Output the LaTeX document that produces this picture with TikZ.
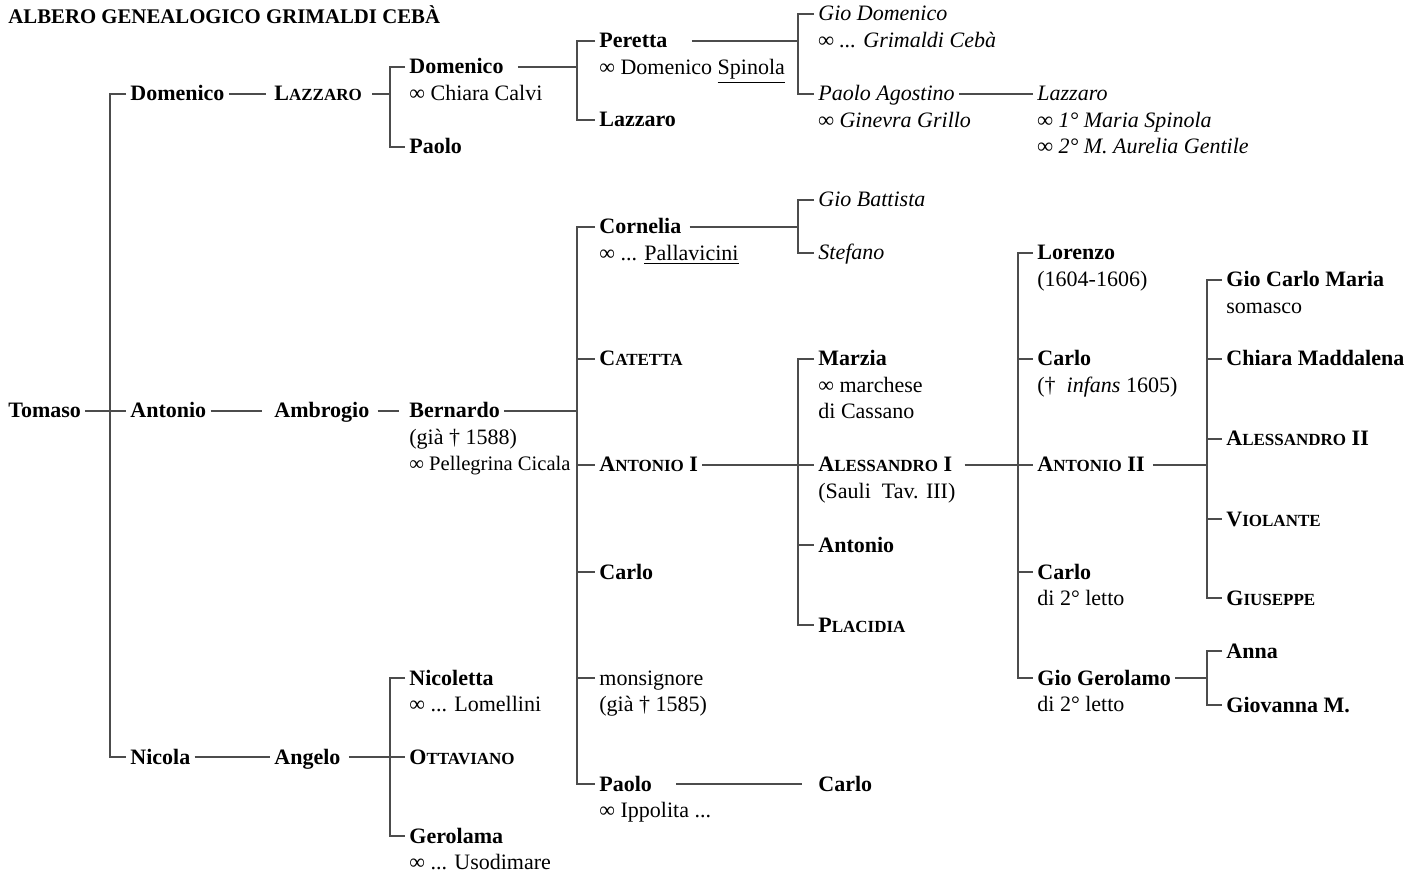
\documentclass[tikz,border=0pt]{standalone}
\usepackage{fontspec}
\setmainfont{Liberation Serif}
\newcommand\tsz{\fontsize{11}{13.25}\selectfont}
\newcommand\ksc[2]{#1{\fontsize{8.5}{10}\selectfont #2}}

\begin{document}
\begin{tikzpicture}[x=0.5pt, y=-0.5pt,
  nm/.style = {font=\tsz\bfseries, anchor=west, inner xsep=2pt, inner ysep=0pt, text height=8pt, text depth=1pt},
  nmrm/.style = {nm, font=\tsz},
  nmit/.style = {nm, font=\tsz\itshape},
  sub/.style = {font=\tsz, anchor=base west, align=left, inner xsep=2pt, inner ysep=0pt},
  subit/.style = {sub, font=\tsz\itshape},
  ln/.style = {draw=black!70, line width=0.6pt}]

\useasboundingbox (0,0) rectangle (1412,876);

\node[font=\fontsize{10.4}{13}\selectfont\bfseries, anchor=west, inner sep=0pt] (title) at (8,15) {ALBERO GENEALOGICO GRIMALDI CEBÀ};

\coordinate (v1) at (110,0);
\coordinate (v3) at (390,0);
\coordinate (v4) at (577,0);
\coordinate (v5) at (798,0);
\coordinate (v6) at (1018,0);
\coordinate (v7) at (1207,0);

\node[nm] (tomaso) at (4,411) {Tomaso};

\node[nm] (domA) at (126,94) {Domenico};
\node[nm] (antA) at (126,411) {Antonio};
\node[nm] (nicA) at (126,757) {Nicola};

\node[nm] (lazB) at (270,94) {\ksc{L}{AZZARO}};
\node[nm] (ambB) at (270,411) {Ambrogio};
\node[nm] (angB) at (270,757) {Angelo};

\node[nm] (domC) at (405,67) {Domenico};
\node[sub] (domCn) at ([yshift=-13.25pt]domC.base west) {∞ Chiara Calvi};
\node[nm] (paoC) at (405,147) {Paolo};
\node[nm] (berC) at (405,411) {Bernardo};
\node[sub] (berCn) at ([yshift=-26.5pt]berC.base west) {(già † 1588)\\{\fontsize{10.3}{13.25}\selectfont ∞ Pellegrina Cicala}};
\node[nm] (nicC) at (405,678) {Nicoletta};
\node[sub] (nicCn) at ([yshift=-13.25pt]nicC.base west) {∞ ... Lomellini};
\node[nm] (ottC) at (405,757) {\ksc{O}{TTAVIANO}};
\node[nm] (gerC) at (405,836) {Gerolama};
\node[sub] (gerCn) at ([yshift=-13.25pt]gerC.base west) {∞ ... Usodimare};

\node[nm] (perD) at (595,41) {Peretta};
\node[sub] (perDn) at ([yshift=-13.25pt]perD.base west) {∞ Domenico \underline{Spinola}};
\node[nm] (lazD) at (595,120) {Lazzaro};
\node[nm] (corD) at (595,227) {Cornelia};
\node[sub] (corDn) at ([yshift=-13.25pt]corD.base west) {∞ ... \underline{Pallavicini}};
\node[nm] (catD) at (595,359) {\ksc{C}{ATETTA}};
\node[nm] (antD) at (595,465) {\ksc{A}{NTONIO} I};
\node[nm] (carD) at (595,572) {Carlo};
\node[nmrm] (monD) at (595,678) {monsignore};
\node[sub] (monDn) at ([yshift=-13.25pt]monD.base west) {(già † 1585)};
\node[nm] (paoD) at (595,784) {Paolo};
\node[sub] (paoDn) at ([yshift=-13.25pt]paoD.base west) {∞ Ippolita ...};

\node[nmit] (gdoE) at (814,14) {Gio Domenico};
\node[subit] (gdoEn) at ([yshift=-13.25pt]gdoE.base west) {∞ ... Grimaldi Cebà};
\node[nmit] (pagE) at (814,94) {Paolo Agostino};
\node[subit] (pagEn) at ([yshift=-13.25pt]pagE.base west) {∞ Ginevra Grillo};
\node[nmit] (gbaE) at (814,200) {Gio Battista};
\node[nmit] (steE) at (814,253) {Stefano};
\node[nm] (marE) at (814,359) {Marzia};
\node[sub] (marEn) at ([yshift=-26.5pt]marE.base west) {∞ marchese\\di Cassano};
\node[nm] (aleE) at (814,465) {\ksc{A}{LESSANDRO} I};
\node[sub] (aleEn) at ([yshift=-13.25pt]aleE.base west) {(Sauli~ Tav. III)};
\node[nm] (antE) at (814,545) {Antonio};
\node[nm] (plaE) at (814,625) {\ksc{P}{LACIDIA}};
\node[nm] (carE) at (814,784) {Carlo};

\node[nmit] (lazF) at (1033,94) {Lazzaro};
\node[subit] (lazFn) at ([yshift=-26.5pt]lazF.base west) {∞ 1° Maria Spinola\\∞ 2° M. Aurelia Gentile};
\node[nm] (lorF) at (1033,253) {Lorenzo};
\node[sub] (lorFn) at ([yshift=-13.25pt]lorF.base west) {(1604-1606)};
\node[nm] (carF) at (1033,359) {Carlo};
\node[sub] (carFn) at ([yshift=-13.25pt]carF.base west) {(†~ \textit{infans} 1605)};
\node[nm] (antF) at (1033,465) {\ksc{A}{NTONIO} II};
\node[nm] (crlF) at (1033,572) {Carlo};
\node[sub] (crlFn) at ([yshift=-13.25pt]crlF.base west) {di 2° letto};
\node[nm] (ggeF) at (1033,678) {Gio Gerolamo};
\node[sub] (ggeFn) at ([yshift=-13.25pt]ggeF.base west) {di 2° letto};

\node[nm] (gcmG) at (1222,280) {Gio Carlo Maria};
\node[sub] (gcmGn) at ([yshift=-13.25pt]gcmG.base west) {somasco};
\node[nm] (cmaG) at (1222,359) {Chiara Maddalena};
\node[nm] (aleG) at (1222,439) {\ksc{A}{LESSANDRO} II};
\node[nm] (vioG) at (1222,519) {\ksc{V}{IOLANTE}};
\node[nm] (giuG) at (1222,598) {\ksc{G}{IUSEPPE}};
\node[nm] (annG) at (1222,651) {Anna};
\node[nm] (gioG) at (1222,705) {Giovanna M.};

% connectors
\draw[ln] (tomaso) -- (antA);
\draw[ln] (domA.west) -| (v1 |- nicA) -- (nicA.west);

\draw[ln, shorten >=2pt] (domA) -- (lazB);
\draw[ln, shorten >=4pt] (antA) -- (ambB);
\draw[ln] (nicA) -- (angB);

\draw[ln, shorten <=3pt] (lazB.east) -- (lazB -| v3);
\draw[ln] (domC.west) -| (v3 |- paoC) -- (paoC.west);
\draw[ln, shorten <=2pt, shorten >=3pt] (ambB) -- (berC);
\draw[ln, shorten <=2pt] (angB.east) -- (ottC.west);
\draw[ln] (nicC.west) -| (v3 |- gerC) -- (gerC.west);

\draw[ln, shorten <=5pt] (domC.east) -- (domC -| v4);
\draw[ln] (perD.west) -| (v4 |- lazD) -- (lazD.west);
\draw[ln] (berC.east) -- (berC -| v4);
\draw[ln] (corD.west) -| (v4 |- paoD) -- (paoD.west);
\foreach \n in {catD,antD,carD,monD}
  \draw[ln] (v4 |- \n) -- (\n.west);

\draw[ln, shorten <=10pt] (perD.east) -- (perD -| v5);
\draw[ln] (gdoE.west) -| (v5 |- pagE) -- (pagE.west);
\draw[ln] (pagE) -- (lazF);
\draw[ln, shorten <=2pt] (corD.east) -- (corD -| v5);
\draw[ln] (gbaE.west) -| (v5 |- steE) -- (steE.west);
\draw[ln] (antD) -- (aleE);
\draw[ln] (marE.west) -| (v5 |- plaE) -- (plaE.west);
\draw[ln] (v5 |- antE) -- (antE.west);
\draw[ln, shorten <=10pt, shorten >=6pt] (paoD) -- (carE);

\draw[ln, shorten <=4pt] (aleE) -- (antF);
\draw[ln] (lorF.west) -| (v6 |- ggeF) -- (ggeF.west);
\foreach \n in {carF,crlF}
  \draw[ln] (v6 |- \n) -- (\n.west);

\draw[ln, shorten <=2pt] (antF.east) -- (antF -| v7);
\draw[ln] (gcmG.west) -| (v7 |- giuG) -- (giuG.west);
\foreach \n in {cmaG,aleG,vioG}
  \draw[ln] (v7 |- \n) -- (\n.west);
\draw[ln] (ggeF.east) -- (ggeF -| v7);
\draw[ln] (annG.west) -| (v7 |- gioG) -- (gioG.west);

\end{tikzpicture}
\end{document}
